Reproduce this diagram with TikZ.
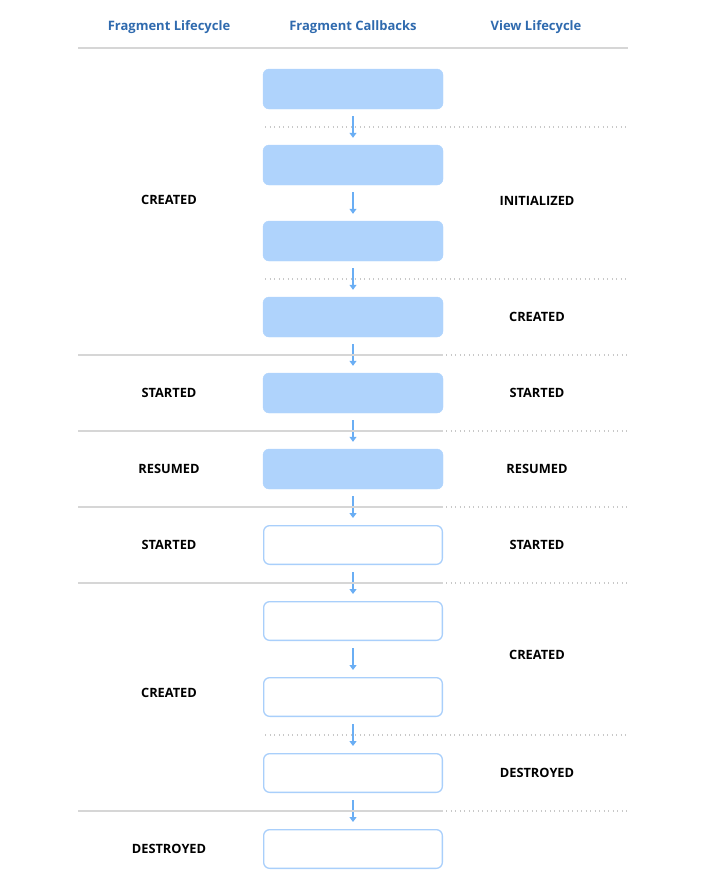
\documentclass[tikz,border=0pt]{standalone}
\usepackage{fontspec}
\setmainfont{Open Sans}
\usetikzlibrary{arrows.meta}
\definecolor{hdr}{HTML}{2F6AAE}
\definecolor{boxfill}{HTML}{AFD3FC}
\definecolor{boxline}{HTML}{A9CFFB}
\definecolor{arr}{HTML}{6AAEF4}
\definecolor{sep}{HTML}{D6D6D6}
\definecolor{dots}{HTML}{C8C8C8}
\begin{document}
\begin{tikzpicture}[x=1pt,y=-1pt,
  hdrtext/.style={font=\bfseries\fontsize{13}{15}\selectfont, text=hdr},
  statetext/.style={font=\bfseries\fontsize{12.8}{14}\selectfont, text=black},
  filledbox/.style={rounded corners=6pt, fill=boxfill, draw=boxfill, minimum width=180pt, minimum height=40pt, inner sep=0pt},
  openbox/.style={rounded corners=6pt, fill=white, draw=boxline, line width=1.3pt, minimum width=178.7pt, minimum height=38.7pt, inner sep=0pt},
  flow/.style={draw=arr, line width=1.2pt, -{Triangle[length=5pt,width=7pt]}},
  solidsep/.style={draw=sep, line width=1.4pt},
  dotsep/.style={draw=dots, line width=1.1pt, dash pattern=on 1.3pt off 3.2pt},
]
\useasboundingbox (0,0) rectangle (714,887);
\node[hdrtext] (h1) at (169,27) {Fragment Lifecycle};
\node[hdrtext] (h2) at (353,27) {Fragment Callbacks};
\node[hdrtext] (h3) at (536,27) {View Lifecycle};
\coordinate (hl) at (78,48);
\coordinate (hr) at (628,48);
\draw[solidsep] (hl) -- (hr);

% boxes
\foreach \i/\y in {1/89,2/165,3/241,4/317,5/393,6/469}{
  \node[filledbox] (b\i) at (353,\y) {};
}
\foreach \i/\y in {7/545,8/621,9/697,10/773,11/849}{
  \node[openbox] (b\i) at (353,\y) {};
}
% arrows
\foreach \a/\b in {1/2,2/3,3/4,4/5,5/6,6/7,7/8,8/9,9/10,10/11}{
  \draw[flow] ([yshift=-7pt]b\a.south) -- ([yshift=7pt]b\b.north);
}
% separators
\foreach \y in {127,279,735}{
  \coordinate (dl\y) at (265,\y);
  \coordinate (dr\y) at (628,\y);
  \draw[dotsep] (dl\y) -- (dr\y);
}
\foreach \y in {355,431,507,583,811}{
  \coordinate (sl\y) at (78,\y);
  \coordinate (sm\y) at (443,\y);
  \coordinate (sr\y) at (628,\y);
  \draw[solidsep] (sl\y) -- (sm\y);
  \draw[dotsep] ([xshift=3pt]sm\y) -- (sr\y);
}
% left labels
\node[statetext] (l1) at (169,200) {CREATED};
\node[statetext] (l2) at (169,393) {STARTED};
\node[statetext] (l3) at (169,469) {RESUMED};
\node[statetext] (l4) at (169,545) {STARTED};
\node[statetext] (l5) at (169,693) {CREATED};
\node[statetext] (l6) at (169,849) {DESTROYED};
% right labels
\node[statetext] (r1) at (537,201) {INITIALIZED};
\node[statetext] (r2) at (537,317) {CREATED};
\node[statetext] (r3) at (537,393) {STARTED};
\node[statetext] (r4) at (537,469) {RESUMED};
\node[statetext] (r5) at (537,545) {STARTED};
\node[statetext] (r6) at (537,655) {CREATED};
\node[statetext] (r7) at (537,773) {DESTROYED};
\end{tikzpicture}
\end{document}
